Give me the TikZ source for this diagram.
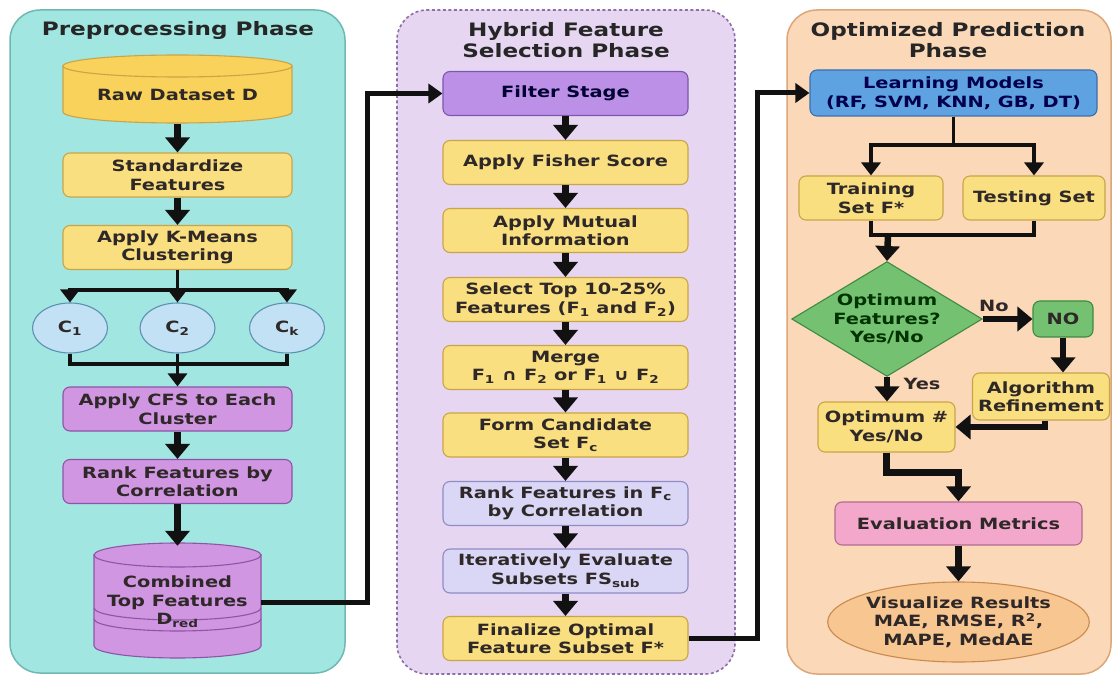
\documentclass[tikz,border=0pt]{standalone}
\usepackage{fontspec}
\setmainfont{DejaVu Sans}[FakeStretch=1.25]
\usetikzlibrary{arrows.meta,shapes.geometric}
\definecolor{pcyan}{HTML}{A1E6E1}
\definecolor{pcyanB}{HTML}{6FB8B3}
\definecolor{plav}{HTML}{E7D6F1}
\definecolor{plavB}{HTML}{8C6FA8}
\definecolor{ppeach}{HTML}{FBD8B8}
\definecolor{ppeachB}{HTML}{DDA678}
\definecolor{yel}{HTML}{F9DF80}
\definecolor{yelB}{HTML}{C9A548}
\definecolor{yelD}{HTML}{F8D25A}
\definecolor{pur}{HTML}{D096E2}
\definecolor{purB}{HTML}{8E55A6}
\definecolor{fil}{HTML}{BC90E6}
\definecolor{filB}{HTML}{7B58AD}
\definecolor{lil}{HTML}{DAD7F6}
\definecolor{lilB}{HTML}{8F8BC4}
\definecolor{blu}{HTML}{5EA2E2}
\definecolor{bluB}{HTML}{3B6FAE}
\definecolor{grn}{HTML}{74C271}
\definecolor{grnB}{HTML}{3E8A42}
\definecolor{pnk}{HTML}{F3A7CB}
\definecolor{pnkB}{HTML}{B56C8E}
\definecolor{org}{HTML}{F8C690}
\definecolor{orgB}{HTML}{C98A4F}
\definecolor{cir}{HTML}{C2E1F4}
\definecolor{cirB}{HTML}{5E90B4}
\definecolor{txt}{HTML}{2F2828}
\definecolor{ln}{HTML}{111111}
\newcommand\bxf{\fontsize{15.5}{18.5}\selectfont\bfseries}
\newcommand\ttf{\fontsize{18.5}{21}\selectfont\bfseries}
\tikzset{
 box/.style={draw, rounded corners=7pt, line width=1.1pt, align=center, inner sep=1pt, font=\bxf, text=txt, minimum height=44pt},
 ybox/.style={box, fill=yel, draw=yelB},
 pbox/.style={box, fill=pur, draw=purB},
 lbox/.style={box, fill=lil, draw=lilB},
 ttl/.style={font=\ttf, text=black!85, align=center},
 arr/.style={line width=6.5pt, draw=ln, line join=miter, -{Triangle[width=24pt,length=15pt]}},
 tarr/.style={line width=3.8pt, draw=ln, line join=miter, -{Triangle[width=19pt,length=13pt]}},
 thinln/.style={line width=3.8pt, draw=ln, line join=miter},
 link/.style={line width=5pt, draw=ln, line join=miter, -{Triangle[width=19pt,length=14pt]}},
 lbl/.style={font=\bxf, text=txt}
}
\begin{document}
\begin{tikzpicture}[x=1pt,y=-1pt]
\useasboundingbox (0,0) rectangle (1112,679);
% panels
\draw[fill=pcyan, draw=pcyanB, line width=1.5pt, rounded corners=30pt] (10,10) rectangle (345,673);
\draw[fill=plav, draw=plavB, line width=1.6pt, dash pattern=on 3pt off 2.5pt, rounded corners=30pt] (397,10) rectangle (735,674);
\draw[fill=ppeach, draw=ppeachB, line width=1.5pt, rounded corners=30pt] (787,10) rectangle (1111,674);
% titles
\node[ttl] (t1) at (178,30) {Preprocessing Phase};
\node[ttl] (t2) at (566,40) {Hybrid Feature\\Selection Phase};
\node[ttl] (t3) at (948,40) {Optimized Prediction\\Phase};
% ---------- left column
\draw[fill=yelD, draw=yelB, line width=1.1pt] (63,66) -- (63,112) arc[start angle=180, end angle=360, x radius=114.5pt, y radius=11pt] -- (292,66) -- cycle;
\draw[fill=yelD, draw=yelB, line width=1.1pt] (177.5,66) ellipse [x radius=114.5pt, y radius=11pt];
\node[font=\bxf, text=txt, minimum width=229pt, minimum height=57pt, inner sep=0pt] (raw) at (177.5,95) {Raw Dataset D};
\node[ybox, minimum width=229pt] (std) at (177.5,175) {Standardize\\Features};
\node[ybox, minimum width=229pt] (km) at (177.5,247.5) {Apply K-Means\\Clustering};
\node[ellipse, draw=cirB, fill=cir, line width=1.1pt, minimum width=75pt, minimum height=50pt, font=\bxf, text=txt, inner sep=0pt] (c1) at (70,328) {C\textsubscript{1}};
\node[ellipse, draw=cirB, fill=cir, line width=1.1pt, minimum width=75pt, minimum height=50pt, font=\bxf, text=txt, inner sep=0pt] (c2) at (177.5,328) {C\textsubscript{2}};
\node[ellipse, draw=cirB, fill=cir, line width=1.1pt, minimum width=75pt, minimum height=50pt, font=\bxf, text=txt, inner sep=0pt] (ck) at (287,328) {C\textsubscript{k}};
\coordinate (kmj) at (177.5,290);
\coordinate (cmj) at (177.5,364);
\node[pbox, minimum width=229pt] (cfs) at (177.5,409) {Apply CFS to Each\\Cluster};
\node[pbox, minimum width=229pt] (rank) at (177.5,481.5) {Rank Features by\\Correlation};
% combined cylinder
\draw[fill=pur, draw=purB, line width=1.1pt] (94,555) -- (94,646) arc[start angle=180, end angle=360, x radius=83.5pt, y radius=12pt] -- (261,555) -- cycle;
\draw[draw=purB, line width=1.1pt] (94,608) arc[start angle=180, end angle=360, x radius=83.5pt, y radius=12pt];
\draw[draw=purB, line width=1.1pt] (94,619) arc[start angle=180, end angle=360, x radius=83.5pt, y radius=12pt];
\draw[fill=pur, draw=purB, line width=1.1pt] (177.5,555) ellipse [x radius=83.5pt, y radius=12pt];
\node[font=\bxf, text=txt, align=center, minimum width=167pt, minimum height=112pt, inner sep=0pt] (comb) at (177.5,602) {Combined\\Top Features\\D\textsubscript{red}};
% left arrows
\draw[arr] (raw.south) -- (std.north);
\draw[arr] (std.south) -- (km.north);
\draw[thinln] (km.south) -- (kmj);
\draw[tarr] (kmj) -| (c1.north);
\draw[tarr] (kmj) -| (ck.north);
\draw[tarr] (kmj) -- (c2.north);
\draw[thinln] (c1.south) |- (cmj);
\draw[thinln] (ck.south) |- (cmj);
\draw[tarr] (c2.south) -- (cfs.north);
\draw[arr] (cfs.south) -- (rank.north);
\draw[arr] (rank.south) -- (comb.north);
% ---------- middle column
\node[box, fill=fil, draw=filB, minimum width=245pt, text=black!80!blue] (filter) at (565.5,93.5) {Filter Stage};
\node[ybox, minimum width=245pt] (fisher) at (565.5,162.5) {Apply Fisher Score};
\node[ybox, minimum width=245pt] (mutual) at (565.5,230.5) {Apply Mutual\\Information};
\node[ybox, minimum width=245pt] (select) at (565.5,299.5) {Select Top 10-25\%\\Features (F\textsubscript{1} and F\textsubscript{2})};
\node[ybox, minimum width=245pt] (merge) at (565.5,367.5) {Merge\\F\textsubscript{1} ∩ F\textsubscript{2} or F\textsubscript{1} ∪ F\textsubscript{2}};
\node[ybox, minimum width=245pt] (form) at (565.5,435) {Form Candidate\\Set F\textsubscript{c}};
\node[lbox, minimum width=245pt] (rankfc) at (565.5,503.5) {Rank Features in F\textsubscript{c}\\by Correlation};
\node[lbox, minimum width=245pt] (iter) at (565.5,571) {Iteratively Evaluate\\Subsets FS\textsubscript{sub}};
\node[ybox, minimum width=245pt] (final) at (565.5,638.5) {Finalize Optimal\\Feature Subset F*};
\draw[arr] (filter.south) -- (fisher.north);
\draw[arr] (fisher.south) -- (mutual.north);
\draw[arr] (mutual.south) -- (select.north);
\draw[arr] (select.south) -- (merge.north);
\draw[arr] (merge.south) -- (form.north);
\draw[arr] (form.south) -- (rankfc.north);
\draw[arr] (rankfc.south) -- (iter.north);
\draw[arr] (iter.south) -- (final.north);
% ---------- right column
\node[box, fill=blu, draw=bluB, minimum width=287pt, minimum height=46pt, text=black!70!blue] (lm) at (953.5,93) {Learning Models\\(RF, SVM, KNN, GB, DT)};
\coordinate (lmj) at (953.5,145);
\node[ybox, minimum width=144pt] (train) at (871,198) {Training\\Set F*};
\node[ybox, minimum width=142pt] (test) at (1034,198) {Testing Set};
\coordinate (tj) at (888,235);
\node[diamond, draw=grnB, fill=grn, line width=1.1pt, minimum width=179pt, minimum height=108pt, inner sep=0pt, aspect=1.66, font=\bxf, text=black!80!green, align=center] (dia) at (887,319) {Optimum\\Features?\\Yes/No};
\node[box, fill=grn, draw=grnB, minimum width=60pt, minimum height=36pt] (no) at (1063,319) {NO};
\node[ybox, minimum width=137pt, minimum height=47pt] (algo) at (1041,396.5) {Algorithm\\Refinement};
\node[ybox, minimum width=137pt, minimum height=50pt] (opt) at (886.5,427) {Optimum \#\\Yes/No};
\node[box, fill=pnk, draw=pnkB, minimum width=247pt, minimum height=43pt] (eval) at (958.5,523.5) {Evaluation Metrics};
\node[ellipse, draw=orgB, fill=org, line width=1.1pt, minimum width=247pt, minimum height=80pt, inner sep=0pt, font=\bxf, text=txt, align=center] (vis) at (958.5,622) {Visualize Results\\MAE, RMSE, R\textsuperscript{2},\\MAPE, MedAE};
\node[lbl] (nolbl) at (994,306) {No};
\node[lbl, anchor=west] (yeslbl) at (900,384) {Yes};
% links between phases
\coordinate (l1) at (367,300);
\coordinate (l2) at (757,300);
\draw[link] (comb.east) -| (l1) |- (filter.west);
\draw[link] (final.east) -| (l2) |- (lm.west);
% right arrows
\draw[thinln] (lm.south) -- (lmj);
\draw[tarr] (lmj) -| (train.north);
\draw[tarr] (lmj) -| (test.north);
\draw[thinln] (train.south) |- (tj);
\draw[thinln] (test.south) |- (tj);
\draw[arr] (tj) -- (dia.north);
\draw[arr] (dia.east) -- (no.west);
\draw[arr] (no.south) -- (no.south |- algo.north);
\draw[arr] (dia.south) -- (dia.south |- opt.north);
\draw[arr] ([xshift=4pt]algo.south) |- (opt.east);
\draw[arr] (opt.south) -- ++(0,20) -| (eval.north);
\draw[arr] (eval.south) -- (vis.north);
\end{tikzpicture}
\end{document}
